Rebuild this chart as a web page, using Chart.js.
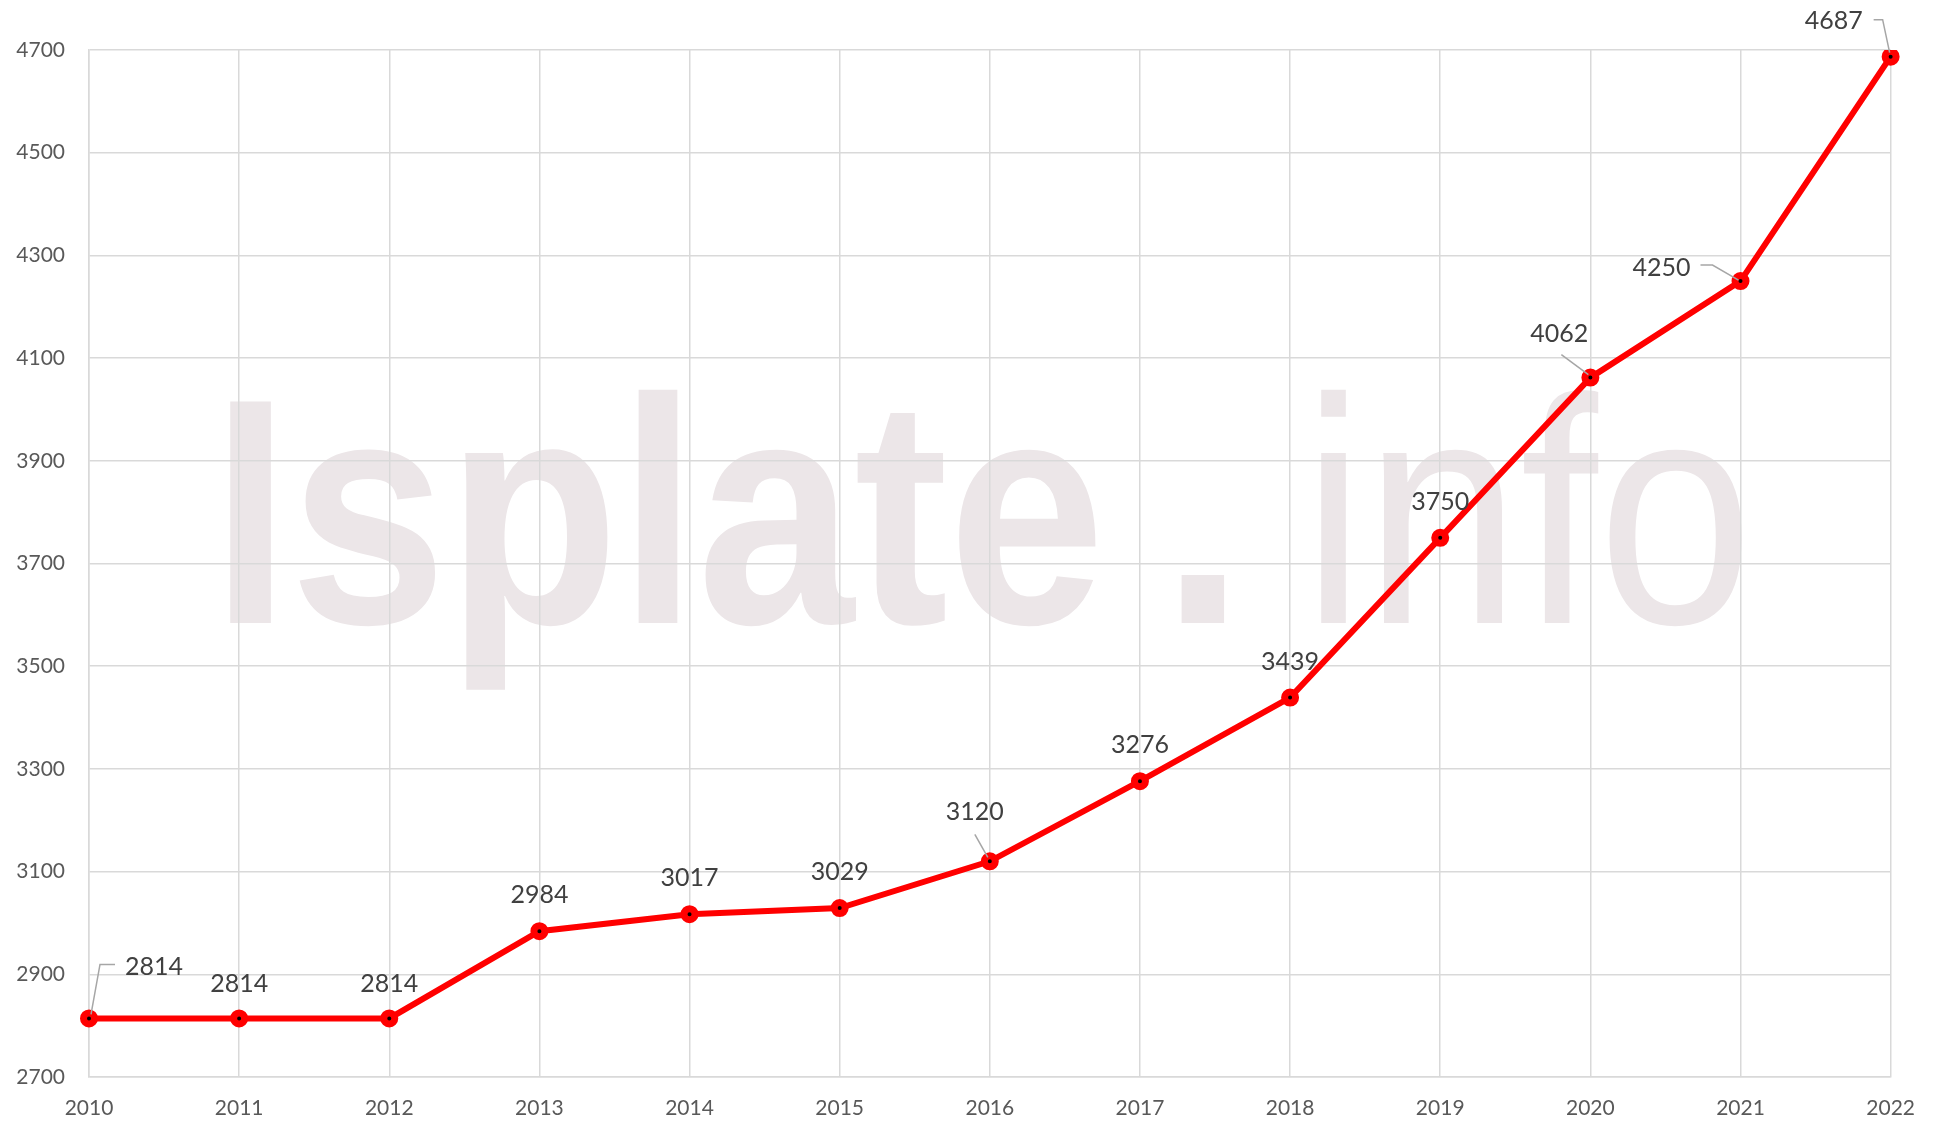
<!DOCTYPE html>
<html>
<head>
<meta charset="utf-8">
<title>Isplate chart</title>
<script src="https://cdn.jsdelivr.net/npm/chart.js@4/dist/chart.umd.min.js"></script>
<style>
  html, body { margin: 0; padding: 0; background: #ffffff; }
  #wrap { width: 1934px; height: 1125px; }
</style>
</head>
<body>
<div id="wrap"><canvas id="chart" width="1934" height="1125"></canvas></div>
<script>
// chart data
const years = ['2010', '2011', '2012', '2013', '2014', '2015', '2016',
               '2017', '2018', '2019', '2020', '2021', '2022'];
const values = [2814, 2814, 2814, 2984, 3017, 3029, 3120,
                3276, 3439, 3750, 4062, 4250, 4687];
const yMin = 2700;
const yMax = 4700;
const yStep = 200;

// label placement relative to each point (style only)
// align, dx, dy, leader path (relative points) or null
const labelPlacement = [
  { align: 'left',   dx: 36,  dy: -52, leader: [[2, -4], [11, -54], [26, -54]] },
  { align: 'center', dx: 0,   dy: -35, leader: null },
  { align: 'center', dx: 0,   dy: -35, leader: null },
  { align: 'center', dx: 0,   dy: -36, leader: null },
  { align: 'center', dx: 0,   dy: -36, leader: null },
  { align: 'center', dx: 0,   dy: -36, leader: null },
  { align: 'center', dx: -15, dy: -49, leader: [[-15, -27], [-2, -4]] },
  { align: 'center', dx: 0,   dy: -36, leader: null },
  { align: 'center', dx: 0,   dy: -36, leader: null },
  { align: 'center', dx: 0,   dy: -36, leader: null },
  { align: 'center', dx: -31, dy: -44, leader: [[-29, -23], [-2, -3]] },
  { align: 'right',  dx: -50, dy: -13, leader: [[-40, -16], [-28, -16], [-2, -1]] },
  { align: 'right',  dx: -28, dy: -36, leader: [[-17, -37], [-8, -37], [-1, -4]] }
];

const gridColor = '#d9d9d9';
const tickColor = '#595959';
const labelColor = '#404040';

/**
 * Big faint watermark drawn under the grid
 */
const watermarkPlugin = {
  id: 'watermark',
  beforeDraw(chart) {
    const ctx = chart.ctx;
    ctx.save();
    ctx.fillStyle = 'rgb(236, 230, 232)';
    ctx.textBaseline = 'alphabetic';
    ctx.textAlign = 'left';
    // each part: text, font, left edge, right edge of glyphs
    const parts = [
      { text: 'Isplate', font: 'bold 322px "Liberation Sans", Arial, sans-serif', x0: 229, x1: 1098 },
      { text: '.', font: 'bold 322px "Liberation Sans", Arial, sans-serif', x0: 1180, x1: 1227 },
      { text: 'info', font: '322px "Liberation Sans", Arial, sans-serif', x0: 1320, x1: 1742 }
    ];
    const baseline = 623;
    parts.forEach(p => {
      ctx.font = p.font;
      const m = ctx.measureText(p.text);
      const w = m.actualBoundingBoxLeft + m.actualBoundingBoxRight;
      const sx = (p.x1 - p.x0) / w;
      ctx.save();
      ctx.translate(p.x0, baseline);
      ctx.scale(sx, 1);
      ctx.fillText(p.text, m.actualBoundingBoxLeft, 0);
      ctx.restore();
    });
    ctx.restore();
  }
};

/**
 * Value labels with leader lines
 */
const valueLabelPlugin = {
  id: 'valueLabels',
  afterDatasetsDraw(chart) {
    const ctx = chart.ctx;
    const meta = chart.getDatasetMeta(0);
    ctx.save();
    meta.data.forEach((pt, i) => {
      const place = labelPlacement[i];
      if (place.leader) {
        ctx.beginPath();
        ctx.strokeStyle = '#a6a6a6';
        ctx.lineWidth = 1.5;
        place.leader.forEach(([lx, ly], k) => {
          if (k === 0) ctx.moveTo(pt.x + lx, pt.y + ly);
          else ctx.lineTo(pt.x + lx, pt.y + ly);
        });
        ctx.stroke();
      }
      ctx.font = '25px Lato, "Open Sans", sans-serif';
      ctx.fillStyle = labelColor;
      ctx.textAlign = place.align;
      ctx.textBaseline = 'middle';
      ctx.fillText(String(chart.data.datasets[0].data[i]), pt.x + place.dx, pt.y + place.dy);
    });
    ctx.restore();
  }
};

const ctx = document.getElementById('chart').getContext('2d');
new Chart(ctx, {
  type: 'line',
  data: {
    labels: years,
    datasets: [{
      data: values,
      borderColor: '#ff0000',
      borderWidth: 6,
      pointRadius: 5.5,
      pointBorderWidth: 7,
      pointBorderColor: '#ff0000',
      pointBackgroundColor: '#000000',
      tension: 0,
      fill: false
    }]
  },
  options: {
    responsive: false,
    animation: false,
    layout: {
      padding: { top: 50, right: 41, left: 0, bottom: 0 }
    },
    plugins: {
      legend: { display: false },
      tooltip: { enabled: false },
      title: { display: false }
    },
    scales: {
      x: {
        offset: false,
        grid: {
          color: gridColor,
          lineWidth: 1.5,
          drawTicks: false
        },
        border: { color: gridColor, width: 1.5 },
        ticks: {
          color: tickColor,
          padding: 19,
          maxRotation: 0,
          autoSkip: false,
          font: { family: 'Lato, "Open Sans", sans-serif', size: 21 }
        },
        afterFit(scale) { scale.height = 48; }
      },
      y: {
        min: yMin,
        max: yMax,
        grid: {
          color: gridColor,
          lineWidth: 1.5,
          drawTicks: false
        },
        border: { color: gridColor, width: 1.5 },
        ticks: {
          stepSize: yStep,
          color: tickColor,
          padding: 24,
          font: { family: 'Lato, "Open Sans", sans-serif', size: 21 },
          callback: value => String(value)
        },
        afterFit(scale) { scale.width = 89; }
      }
    }
  },
  plugins: [watermarkPlugin, valueLabelPlugin]
});
</script>
</body>
</html>
